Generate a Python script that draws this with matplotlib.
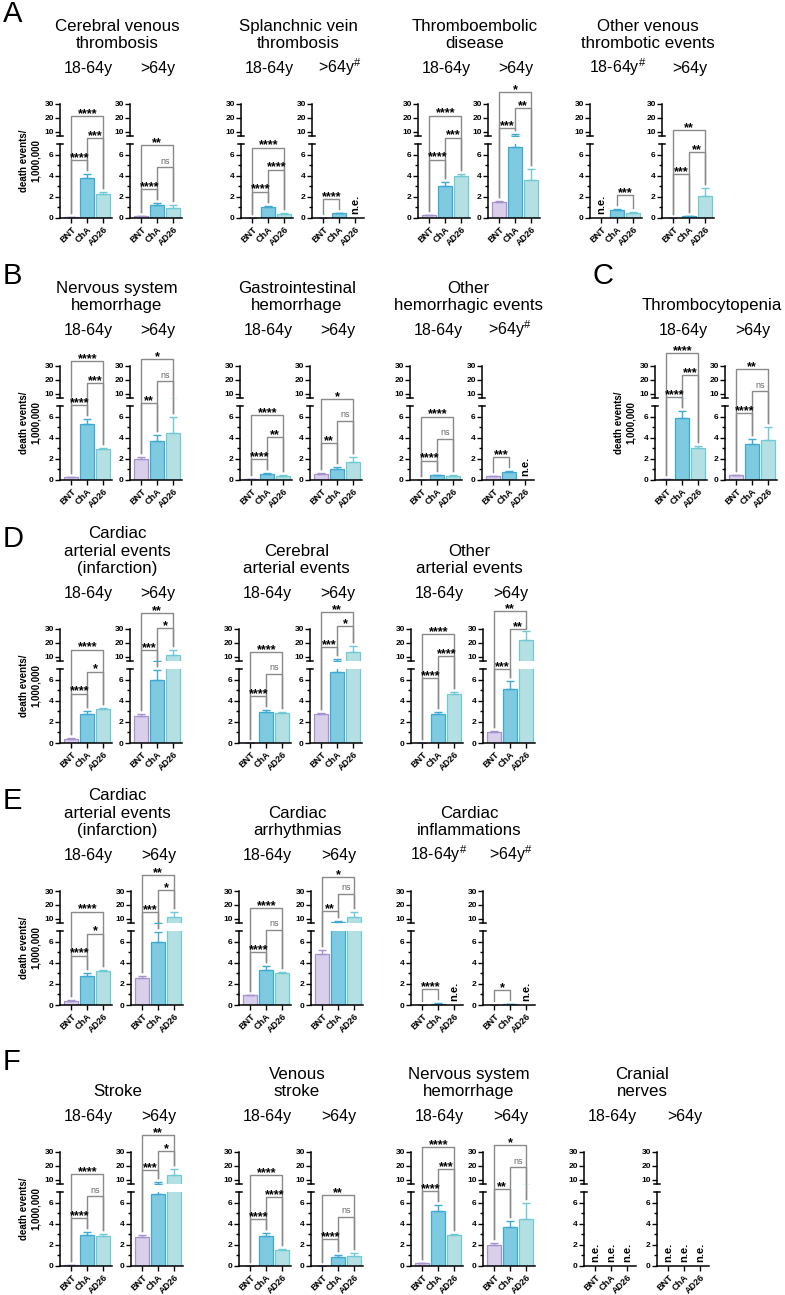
import matplotlib
matplotlib.use('Agg')
import matplotlib.pyplot as plt

plt.rcParams['font.family'] = ['Liberation Sans', 'DejaVu Sans']
plt.rcParams['mathtext.fontset'] = 'custom'
plt.rcParams['mathtext.rm'] = 'Liberation Sans'
plt.rcParams['mathtext.default'] = 'regular'

# ---- data -------------------------------------------------------------
vaccines = ['BNT', 'ChA', 'AD26']

# row A: venous thrombotic events
A_titles = ['Cerebral venous\nthrombosis', 'Splanchnic vein\nthrombosis',
            'Thromboembolic\ndisease', 'Other venous\nthrombotic events']
A_ages = ['18-64y', '>64y', '18-64y', '>64y#', '18-64y', '>64y', '18-64y#', '>64y']
A_means = [[0.05, 3.75, 2.30], [0.15, 1.25, 0.90], [0.02, 1.05, 0.38], [0.03, 0.45, None],
           [0.28, 3.05, 4.00], [1.55, 6.75, 3.55], [None, 0.78, 0.52], [0.03, 0.15, 2.10]]
A_errs = [[0.02, 0.40, 0.15], [0.05, 0.15, 0.30], [0.01, 0.12, 0.05], [0.01, 0.05, 0],
          [0.05, 0.35, 0.20], [0.07, 1.55, 1.10], [0, 0.10, 0.05], [0.01, 0.05, 0.70]]
A_sig = [[(0, 1, '****'), (1, 2, '***'), (0, 2, '****')],
         [(0, 1, '****'), (1, 2, 'ns'), (0, 2, '**')],
         [(0, 1, '****'), (1, 2, '****'), (0, 2, '****')],
         [(0, 1, '****')],
         [(0, 1, '****'), (1, 2, '***'), (0, 2, '****')],
         [(0, 1, '***'), (1, 2, '**'), (0, 2, '*')],
         [(1, 2, '***')],
         [(0, 1, '***'), (1, 2, '**'), (0, 2, '**')]]

# row B/C: hemorrhagic events, thrombocytopenia
B_titles = ['Nervous system\nhemorrhage', 'Gastrointestinal\nhemorrhage',
            'Other\nhemorrhagic events', 'Thrombocytopenia']
B_ages = ['18-64y', '>64y', '18-64y', '>64y', '18-64y', '>64y#', '18-64y', '>64y']
B_means = [[0.25, 5.25, 2.90], [2.00, 3.70, 4.45], [0.05, 0.55, 0.40], [0.60, 1.00, 1.70],
           [0.02, 0.45, 0.42], [0.35, 0.72, None], [0.05, 5.90, 3.05], [0.45, 3.40, 3.80]]
B_errs = [[0.05, 0.55, 0.12], [0.15, 0.60, 1.50], [0.01, 0.08, 0.05], [0.05, 0.20, 0.50],
          [0.01, 0.07, 0.05], [0.05, 0.12, 0], [0.01, 0.60, 0.15], [0.07, 0.50, 1.20]]
B_sig = [[(0, 1, '****'), (1, 2, '***'), (0, 2, '****')],
         [(0, 1, '**'), (1, 2, 'ns'), (0, 2, '*')],
         [(0, 1, '****'), (1, 2, '**'), (0, 2, '****')],
         [(0, 1, '**'), (1, 2, 'ns'), (0, 2, '*')],
         [(0, 1, '****'), (1, 2, 'ns'), (0, 2, '****')],
         [(0, 1, '***')],
         [(0, 1, '****'), (1, 2, '***'), (0, 2, '****')],
         [(0, 1, '****'), (1, 2, 'ns'), (0, 2, '**')]]

# row D: arterial events
D_titles = ['Cardiac\narterial events\n(infarction)', 'Cerebral\narterial events',
            'Other\narterial events']
D_ages = ['18-64y', '>64y', '18-64y', '>64y', '18-64y', '>64y']
D_means = [[0.40, 2.70, 3.20], [2.60, 6.00, 11.5], [0.03, 2.90, 2.80], [2.70, 6.70, 13.5],
           [0.03, 2.70, 4.65], [1.05, 5.15, 22.0]]
D_errs = [[0.05, 0.30, 0.15], [0.15, 0.90, 3.40], [0.01, 0.25, 0.15], [0.15, 1.70, 4.50],
          [0.01, 0.25, 0.15], [0.07, 0.75, 6.70]]
D_sig = [[(0, 1, '****'), (1, 2, '*'), (0, 2, '****')],
         [(0, 1, '***'), (1, 2, '*'), (0, 2, '**')],
         [(0, 1, '****'), (1, 2, 'ns'), (0, 2, '****')],
         [(0, 1, '***'), (1, 2, '*'), (0, 2, '**')],
         [(0, 1, '****'), (1, 2, '****'), (0, 2, '****')],
         [(0, 1, '***'), (1, 2, '**'), (0, 2, '**')]]

# row E: cardiac events
E_titles = ['Cardiac\narterial events\n(infarction)', 'Cardiac\narrhythmias',
            'Cardiac\ninflammations']
E_ages = ['18-64y', '>64y', '18-64y', '>64y', '18-64y#', '>64y#']
E_means = [[0.40, 2.70, 3.20], [2.60, 6.00, 11.5], [0.90, 3.35, 3.00], [4.85, 7.60, 11.3],
           [0.02, 0.12, None], [0.02, 0.08, None]]
E_errs = [[0.05, 0.30, 0.15], [0.15, 0.90, 3.40], [0.05, 0.35, 0.12], [0.35, 0.80, 3.50],
          [0.01, 0.03, 0], [0.01, 0.02, 0]]
E_sig = [[(0, 1, '****'), (1, 2, '*'), (0, 2, '****')],
         [(0, 1, '***'), (1, 2, '*'), (0, 2, '**')],
         [(0, 1, '****'), (1, 2, 'ns'), (0, 2, '****')],
         [(0, 1, '**'), (1, 2, 'ns'), (0, 2, '*')],
         [(0, 1, '****')],
         [(0, 1, '*')]]

# row F: neurological events
F_titles = ['Stroke', 'Venous\nstroke', 'Nervous system\nhemorrhage', 'Cranial\nnerves']
F_ages = ['18-64y', '>64y'] * 4
F_means = [[0.05, 2.90, 2.85], [2.75, 6.80, 13.5], [0.02, 2.85, 1.50], [0.02, 0.85, 0.90],
           [0.25, 5.25, 2.90], [2.00, 3.70, 4.45], [None, None, None], [None, None, None]]
F_errs = [[0.01, 0.30, 0.15], [0.15, 1.70, 4.00], [0.01, 0.30, 0.07], [0.01, 0.15, 0.35],
          [0.05, 0.55, 0.12], [0.15, 0.60, 1.50], [0, 0, 0], [0, 0, 0]]
F_sig = [[(0, 1, '****'), (1, 2, 'ns'), (0, 2, '****')],
         [(0, 1, '***'), (1, 2, '*'), (0, 2, '**')],
         [(0, 1, '****'), (1, 2, '****'), (0, 2, '****')],
         [(0, 1, '****'), (1, 2, 'ns'), (0, 2, '**')],
         [(0, 1, '****'), (1, 2, '***'), (0, 2, '****')],
         [(0, 1, '**'), (1, 2, 'ns'), (0, 2, '*')],
         [], []]

# ---- layout (pixels) --------------------------------------------------
W, H = 785, 1295
LOW_H = 74          # 0..7 segment
UP_BOT, UP_TOP = 82, 114   # 7..30 segment, px above baseline
PANEL_W = 52
PXU = LOW_H / 7.0
FILL = ['#dacfeb', '#7ecae0', '#b4e0e4']
EDGE = ['#a592cf', '#3eaad3', '#70cad4']
GRAY = '#8a8a8a'

rows = [
    ('A', 218, A_titles, A_ages, A_means, A_errs, A_sig, [60, 130, 241, 312, 418, 488, 590, 662]),
    ('B', 480, B_titles, B_ages, B_means, B_errs, B_sig, [60, 130, 240, 310, 410, 482, 655, 725]),
    ('D', 743, D_titles, D_ages, D_means, D_errs, D_sig, [60, 130, 239, 310, 411, 483]),
    ('E', 1005, E_titles, E_ages, E_means, E_errs, E_sig, [60, 131, 239, 311, 411, 483]),
    ('F', 1266, F_titles, F_ages, F_means, F_errs, F_sig, [60, 131, 239, 311, 411, 483, 584, 657]),
]
# hand-placed bracket heights (px above baseline) where Prism layout differs
bracket_px = {
    ('A', 5): [90, 110, 126],
    ('D', 1): [93, 115, 130], ('D', 3): [96, 117, 131], ('D', 5): [74, 114, 132],
    ('E', 1): [93, 115, 130], ('E', 3): [94, 111, 128],
    ('F', 1): [96, 115, 131],
}
ylabel_panels = {('A', 0), ('B', 0), ('B', 6), ('D', 0), ('E', 0), ('F', 0)}

fig = plt.figure(figsize=(W / 100, H / 100), dpi=100)


def px_axes(x, y_top, w, h):
    return fig.add_axes([x / W, 1 - (y_top + h) / H, w / W, h / H])


def ftext(x, y, s, **kw):
    return fig.text(x / W, 1 - y / H, s, **kw)


def disp(v):
    # display height (px above baseline) on the broken axis
    if v <= 7:
        return v * PXU
    return UP_BOT + (v - 7) * (UP_TOP - UP_BOT) / 23.0


def fmt_age(s):
    return s.replace('#', r'$^{\#}$')


def draw_panel(x0, base, means, errs, sig, levels):
    lo = px_axes(x0, base - LOW_H, PANEL_W, LOW_H)
    hi = px_axes(x0, base - UP_TOP, PANEL_W, UP_TOP - UP_BOT)
    for ax in (lo, hi):
        ax.set_xlim(-0.7, 2.55)
        ax.patch.set_visible(False)
        for s in ('top', 'right'):
            ax.spines[s].set_visible(False)
        ax.spines['left'].set_linewidth(1.1)
        ax.tick_params(axis='y', length=3.5, width=1, pad=1, labelsize=6)
    hi.spines['bottom'].set_visible(False)
    lo.spines['bottom'].set_linewidth(1.1)
    lo.set_ylim(0, 7)
    hi.set_ylim(7, 30)
    lo.set_yticks([0, 2, 4, 6])
    lo.set_yticks([1, 3, 5], minor=True)
    lo.tick_params(axis='y', which='minor', length=2, width=1)
    hi.set_yticks([10, 20, 30])
    hi.set_xticks([])
    for ax in (lo, hi):
        for t in ax.get_yticklabels():
            t.set_fontweight('bold')
    lo.set_xticks([0, 1, 2])
    lo.set_xticklabels(vaccines, rotation=45, ha='right', rotation_mode='anchor',
                       fontsize=6.5, fontweight='bold')
    lo.tick_params(axis='x', length=3.5, width=1, pad=1.5)
    # break marks
    d = 3.0 / PANEL_W
    lo.plot([-d, d], [1, 1], transform=lo.transAxes, color='k', lw=1.1, clip_on=False)
    hi.plot([-d, d], [0, 0], transform=hi.transAxes, color='k', lw=1.1, clip_on=False)

    tops = []
    for i, (m, e) in enumerate(zip(means, errs)):
        if m is None:
            tops.append(0)
            lo.text(i, 0.4, 'n.e.', rotation=90, ha='center', va='bottom',
                    fontsize=8, fontweight='bold')
            continue
        tops.append(disp(m + e))
        for ax in (lo, hi):
            ax.bar(i, m, 0.9, color=FILL[i], edgecolor=EDGE[i], linewidth=0.9)
            ax.errorbar(i, m, yerr=[[0], [e]], fmt='none', ecolor=EDGE[i],
                        elinewidth=1, capsize=3, capthick=1)

    if levels is None:
        start = max(tops) + 14
        levels = [start + 22 * k for k in range(len(sig))]
    for (i, j, lbl), y in zip(sig, levels):
        yl = tops[i] + 4
        yr = tops[j] + 4
        lo.plot([i, i, j, j], [yl / PXU, y / PXU, y / PXU, yr / PXU],
                color=GRAY, lw=1, clip_on=False)
        if lbl == 'ns':
            lo.text((i + j) / 2, (y + 6) / PXU, lbl, ha='center', va='center',
                    fontsize=6.5, color='#666666', clip_on=False)
        else:
            lo.text((i + j) / 2, (y + 2) / PXU, lbl, ha='center', va='center',
                    fontsize=9, fontweight='bold', clip_on=False)


for letter, base, titles, ages, means, errs, sigs, xs in rows:
    for p, x0 in enumerate(xs):
        draw_panel(x0, base, means[p], errs[p], sigs[p], bracket_px.get((letter, p)))
        ftext(x0 + PANEL_W / 2 + 2, base - 145, fmt_age(ages[p]), ha='center',
              va='baseline', fontsize=11.5)
        if (letter, p) in ylabel_panels:
            ftext(x0 - 30, base - 57, 'death events/\n1,000,000', rotation=90,
                  ha='center', va='center', fontsize=7, fontweight='bold')
    for g, title in enumerate(titles):
        cx = (xs[2 * g] + xs[2 * g + 1] + PANEL_W) / 2 - 4
        ftext(cx, base - 170, title, ha='center', va='baseline', fontsize=12.2,
              linespacing=1.2)
    ftext(3, base - 196, letter, fontsize=21, va='baseline')
    if letter == 'B':
        ftext(592, base - 196, 'C', fontsize=21, va='baseline')

fig.savefig('out.png', dpi=100)
